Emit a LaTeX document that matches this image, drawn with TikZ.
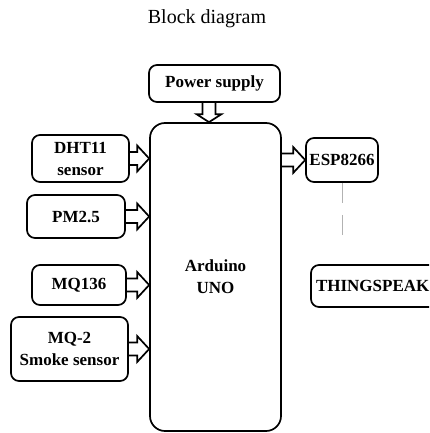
\documentclass[tikz,border=0pt]{standalone}
\usepackage{fontspec}
\setmainfont{Liberation Serif}
\usetikzlibrary{calc}
\newcommand\harr[2]{\draw[arr] ($(#1)+(0,-6.5)$) -- ($(#2)+(-12,-6.5)$) -- ($(#2)+(-12,-13)$) -- (#2) -- ($(#2)+(-12,13)$) -- ($(#2)+(-12,6.5)$) -- ($(#1)+(0,6.5)$);}
\begin{document}
\begin{tikzpicture}[x=1pt,y=-1pt,
  box/.style={draw, line width=1.7pt, rounded corners=8pt, font=\fontsize{17}{22}\selectfont\bfseries, align=center, inner sep=0pt},
  arr/.style={line width=1.7pt, line join=miter}]
\useasboundingbox (0,0) rectangle (429,433);
\clip (0,0) rectangle (429,433);
\node[font=\fontsize{20}{24}\selectfont] (title) at (207,19) {Block diagram};
\node[box, minimum width=131pt, minimum height=37pt] (power) at (214.5,83.5) {Power supply};
\node[box, minimum width=131pt, minimum height=308pt, rounded corners=15pt] (ard) at (215.5,277) {Arduino\\UNO};
\node[box, minimum width=97pt, minimum height=47pt] (dht) at (80.5,158.5) {DHT11\\ sensor};
\node[box, minimum width=98pt, minimum height=43pt] (pm) at (76,216.5) {PM2.5};
\node[box, minimum width=94pt, minimum height=40pt] (mq136) at (79,285) {MQ136};
\node[box, minimum width=117pt, minimum height=64pt] (mq2) at (69.5,349) {MQ-2\\Smoke sensor};
\node[box, minimum width=72pt, minimum height=44pt] (esp) at (342,160) {ESP8266};
\node[box, minimum width=134pt, minimum height=42pt, text width=124pt, align=left] (thing) at (378,286) {THINGSPEAK};
% arrows
\coordinate (t1) at (ard.west |- dht.east);
\coordinate (t2) at (ard.west |- pm.east);
\coordinate (t3) at (ard.west |- mq136.east);
\coordinate (t4) at (ard.west |- mq2.east);
\coordinate (s5) at (ard.east |- esp.west);
\harr{dht.east}{t1}
\harr{pm.east}{t2}
\harr{mq136.east}{t3}
\harr{mq2.east}{t4}
\harr{s5}{esp.west}
\coordinate (ps) at ($(power.south)+(-5.5,0)$);
\coordinate (pt) at (ps |- ard.north);
\draw[arr] ($(ps)+(-6.5,0)$) -- ($(pt)+(-6.5,-8)$) -- ($(pt)+(-12.5,-8)$) -- (pt) -- ($(pt)+(12.5,-8)$) -- ($(pt)+(6.5,-8)$) -- ($(ps)+(6.5,0)$);
% dashed link
\coordinate (dend) at ($(esp.south)+(0,56)$);
\draw[gray!60, line width=0.6pt, dash pattern=on 20pt off 12pt] (esp.south) -- (dend);
\end{tikzpicture}
\end{document}
